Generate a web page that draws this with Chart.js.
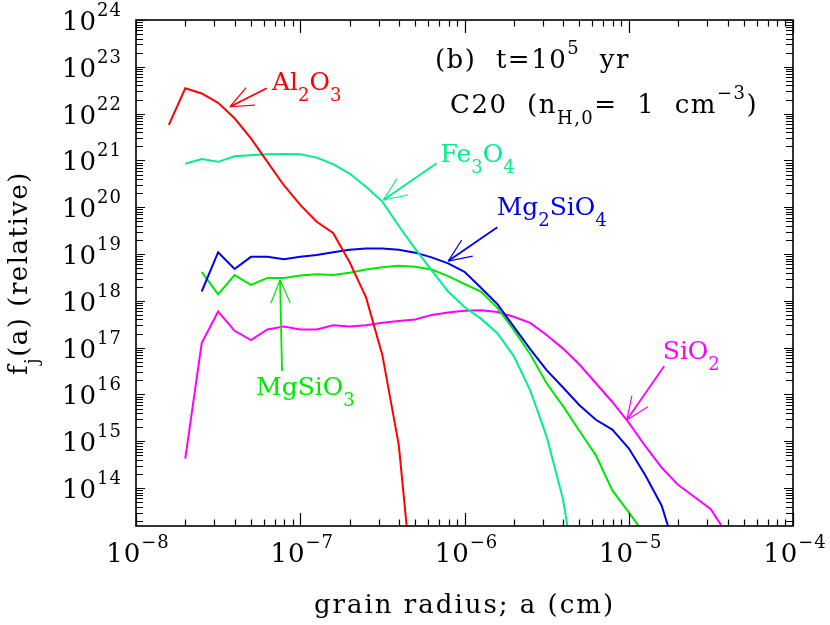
<!DOCTYPE html>
<html lang="en">
<head>
<meta charset="UTF-8">
<title>Grain size distribution, C20 at t = 1e5 yr</title>
<script src="https://cdn.jsdelivr.net/npm/chart.js@4.4.1/dist/chart.umd.min.js"></script>
<style>
  html, body { margin: 0; padding: 0; background: #fff; }
</style>
</head>
<body>
<canvas id="chart" width="830" height="625"></canvas>
<script>
// log10 of grain radius a (cm) for each size bin
const logRadius = [-7.8, -7.7, -7.6, -7.5, -7.4, -7.3, -7.2, -7.1, -7.0, -6.9,
                   -6.8, -6.7, -6.6, -6.5, -6.4, -6.3, -6.2, -6.1, -6.0, -5.9,
                   -5.8, -5.7, -5.6, -5.5, -5.4, -5.3, -5.2, -5.1, -5.0, -4.9,
                   -4.8, -4.7, -4.6, -4.5, -4.4];

// log10 f_j(a) (null = no grains in that bin)
const al2o3   = [21.76, 22.54, 22.43, 22.23, 21.90, 21.47, 20.97, 20.47, 20.05, 19.69,
                 19.45, 18.83, 18.08, 16.84, 14.92, 11.3, null, null, null, null,
                 null, null, null, null, null, null, null, null, null, null,
                 null, null, null, null, null];
const fe3o4   = [null, 20.93, 21.03, 20.97, 21.09, 21.11, 21.13, 21.14, 21.13, 21.06,
                 20.92, 20.72, 20.44, 20.12, 19.60, 19.11, 18.65, 18.20, 17.87, 17.62,
                 17.31, 16.82, 16.09, 15.10, 13.76, 11.6, null, null, null, null,
                 null, null, null, null, null];
const mg2sio4 = [null, null, 18.20, 19.04, 18.68, 18.94, 18.94, 18.89, 18.94, 18.98,
                 19.04, 19.09, 19.12, 19.12, 19.09, 19.03, 18.93, 18.80, 18.62, 18.28,
                 17.93, 17.45, 16.97, 16.52, 16.15, 15.77, 15.46, 15.25, 14.85, 14.28,
                 13.63, 12.5, null, null, null];
const mgsio3  = [null, null, 18.62, 18.14, 18.55, 18.34, 18.49, 18.49, 18.54, 18.57,
                 18.55, 18.60, 18.67, 18.72, 18.75, 18.73, 18.67, 18.53, 18.36, 18.20,
                 17.85, 17.38, 16.86, 16.24, 15.75, 15.22, 14.70, 13.95, 13.48, 13.0,
                 null, null, null, null, null];
const sio2    = [null, 14.63, 17.10, 17.77, 17.36, 17.16, 17.39, 17.45, 17.39, 17.39,
                 17.48, 17.45, 17.48, 17.53, 17.57, 17.60, 17.70, 17.75, 17.79, 17.80,
                 17.76, 17.66, 17.53, 17.27, 16.98, 16.64, 16.24, 15.84, 15.40, 14.90,
                 14.44, 14.07, 13.81, 13.55, 13.0];

// axis decades
const xDecades = [-8, -7, -6, -5, -4];
const yDecades = [14, 15, 16, 17, 18, 19, 20, 21, 22, 23, 24];
const X_MIN = 1e-8, X_MAX = 1e-4;
const Y_MIN = 1.55e13, Y_MAX = 1e24;

const RED = '#ff0000', TEAL = '#00ee8c', GREEN = '#00e800', BLUE = '#0000f0', MAGENTA = '#ff00ff';

// species labels with arrows; positions as (log a, log f)
const notes = [
  { color: RED,     at: [-7.172, 22.504], tail: [-7.204, 22.541], tip: [-7.428, 22.147],
    parts: [['Al', 0], ['2', -1], ['O', 0], ['3', -1]] },
  { color: TEAL,    at: [-6.146, 20.966], tail: [-6.169, 20.938], tip: [-6.494, 20.154],
    parts: [['Fe', 0], ['3', -1], ['O', 0], ['4', -1]] },
  { color: BLUE,    at: [-5.804, 19.833], tail: [-5.800, 19.571], tip: [-6.099, 18.850],
    parts: [['Mg', 0], ['2', -1], ['SiO', 0], ['4', -1]] },
  { color: MAGENTA, at: [-4.793, 16.750], tail: [-4.784, 16.607], tip: [-5.012, 15.453],
    parts: [['SiO', 0], ['2', -1]] },
  { color: GREEN,   at: [-7.269, 15.987], tail: [-7.111, 16.500], tip: [-7.123, 18.444],
    parts: [['MgSiO', 0], ['3', -1]] },
  { color: '#000',  at: [-6.180, 22.974], wide: true,
    parts: [['(b)  t=10', 0], ['5', 1], ['  yr', 0]] },
  { color: '#000',  at: [-6.088, 22.013], wide: true,
    parts: [['C20  (n', 0], ['H,0', -1], ['=  1  cm', 0], ['\u22123', 1], [')', 0]] }
];

const FONT = '"DejaVu Serif", "Liberation Serif", serif';
const SMALL = 18, SUP = 14, SUB = 11;

function toPoints(ys) {
  return logRadius.map((lx, i) => ys[i] == null ? null : { x: Math.pow(10, lx), y: Math.pow(10, ys[i]) })
                  .filter(p => p);
}

// parts: [text, level] with level 1 = superscript, -1 = subscript
function setFont(ctx, lvl, big, spacing) {
  ctx.font = (lvl ? SMALL : big) + 'px ' + FONT;
  ctx.letterSpacing = spacing + 'px';
}

function richWidth(ctx, parts, big, spacing) {
  let w = 0;
  parts.forEach(([t, lvl]) => {
    setFont(ctx, lvl, big, spacing);
    w += ctx.measureText(t).width;
  });
  return w;
}

function drawRich(ctx, parts, x, y, big, spacing) {
  let cx = x;
  parts.forEach(([t, lvl]) => {
    setFont(ctx, lvl, big, spacing);
    const dy = lvl === 1 ? -SUP : (lvl === -1 ? SUB : 0);
    ctx.fillText(t, cx, y + dy);
    cx += ctx.measureText(t).width;
  });
  ctx.letterSpacing = '0px';
}

const framePlugin = {
  id: 'frame',
  afterDatasetsDraw(chart) {
    const ctx = chart.ctx;
    const xs = chart.scales.x, ys = chart.scales.y;
    const a = chart.chartArea;
    const px = lx => xs.getPixelForValue(Math.pow(10, lx));
    const py = ly => ys.getPixelForValue(Math.pow(10, ly));

    ctx.save();
    ctx.strokeStyle = '#000';
    ctx.fillStyle = '#000';

    // ticks, pointing inward on all four sides
    ctx.lineWidth = 1.2;
    ctx.beginPath();
    for (let n = -8; n <= -4; n++) {
      for (let k = 1; k <= 9; k++) {
        const v = k * Math.pow(10, n);
        if (v < X_MIN * 0.999 || v > X_MAX * 1.001) continue;
        const x = Math.round(xs.getPixelForValue(v)) + 0.5;
        const len = k === 1 ? 13 : 6.5;
        ctx.moveTo(x, a.bottom); ctx.lineTo(x, a.bottom - len);
        ctx.moveTo(x, a.top); ctx.lineTo(x, a.top + len);
      }
    }
    for (let n = 13; n <= 24; n++) {
      for (let k = 1; k <= 9; k++) {
        const v = k * Math.pow(10, n);
        if (v < Y_MIN || v > Y_MAX * 1.001) continue;
        const y = Math.round(ys.getPixelForValue(v)) + 0.5;
        const len = k === 1 ? 9 : 7;
        ctx.moveTo(a.left, y); ctx.lineTo(a.left + len, y);
        ctx.moveTo(a.right, y); ctx.lineTo(a.right - len, y);
      }
    }
    ctx.stroke();

    // frame
    ctx.lineWidth = 1.6;
    ctx.strokeRect(a.left, a.top, a.right - a.left, a.bottom - a.top);

    // tick labels
    ctx.textBaseline = 'alphabetic';
    ctx.textAlign = 'left';
    xDecades.forEach(n => {
      const parts = [['10', 0], ['\u2212' + Math.abs(n), 1]];
      const w = richWidth(ctx, parts, 26, 1);
      drawRich(ctx, parts, px(n) - w / 2 + 2, a.bottom + 36, 26, 1);
    });
    yDecades.forEach(n => {
      const parts = [['10', 0], [String(n), 1]];
      const w = richWidth(ctx, parts, 26, 1);
      drawRich(ctx, parts, a.left - 14 - w, py(n) + 10, 26, 1);
    });

    // axis titles
    const xt = [['grain radius; a (cm)', 0]];
    drawRich(ctx, xt, (a.left + a.right) / 2 - richWidth(ctx, xt, 26, 2) / 2, 613, 26, 2);
    const yt = [['f', 0], ['j', -1], ['(a) (relative)', 0]];
    ctx.save();
    ctx.translate(27, (a.top + a.bottom) / 2);
    ctx.rotate(-Math.PI / 2);
    drawRich(ctx, yt, -richWidth(ctx, yt, 26, 1.5) / 2, 0, 26, 1.5);
    ctx.restore();

    // species labels and arrows
    notes.forEach(nt => {
      ctx.fillStyle = nt.color;
      ctx.strokeStyle = nt.color;
      if (nt.wide) drawRich(ctx, nt.parts, px(nt.at[0]), py(nt.at[1]), 26, 1.5);
      else drawRich(ctx, nt.parts, px(nt.at[0]), py(nt.at[1]), 25, 0);
      if (!nt.tip) return;
      const tx = px(nt.tip[0]), ty = py(nt.tip[1]);
      const sx = px(nt.tail[0]), sy = py(nt.tail[1]);
      const ang = Math.atan2(sy - ty, sx - tx);
      ctx.lineWidth = 1.8;
      ctx.beginPath();
      ctx.moveTo(sx, sy); ctx.lineTo(tx, ty);
      ctx.stroke();
      ctx.lineWidth = 1.2;
      ctx.beginPath();
      [-0.4, 0.4].forEach(d => {
        ctx.moveTo(tx, ty);
        ctx.lineTo(tx + 25 * Math.cos(ang + d), ty + 25 * Math.sin(ang + d));
      });
      ctx.stroke();
    });
    ctx.restore();
  }
};

const series = [
  { data: al2o3, color: RED },
  { data: fe3o4, color: TEAL },
  { data: mg2sio4, color: BLUE },
  { data: mgsio3, color: GREEN },
  { data: sio2, color: MAGENTA }
];

new Chart(document.getElementById('chart').getContext('2d'), {
  type: 'line',
  data: {
    datasets: series.map(s => ({
      data: toPoints(s.data),
      borderColor: s.color,
      borderWidth: 2,
      pointRadius: 0,
      tension: 0,
      fill: false,
      clip: 0
    }))
  },
  options: {
    responsive: false,
    animation: false,
    layout: { padding: { left: 136, right: 37, top: 20, bottom: 99 } },
    plugins: { legend: { display: false }, tooltip: { enabled: false } },
    scales: {
      x: { type: 'logarithmic', min: X_MIN, max: X_MAX, display: false },
      y: { type: 'logarithmic', min: Y_MIN, max: Y_MAX, display: false }
    }
  },
  plugins: [framePlugin]
});
</script>
</body>
</html>
